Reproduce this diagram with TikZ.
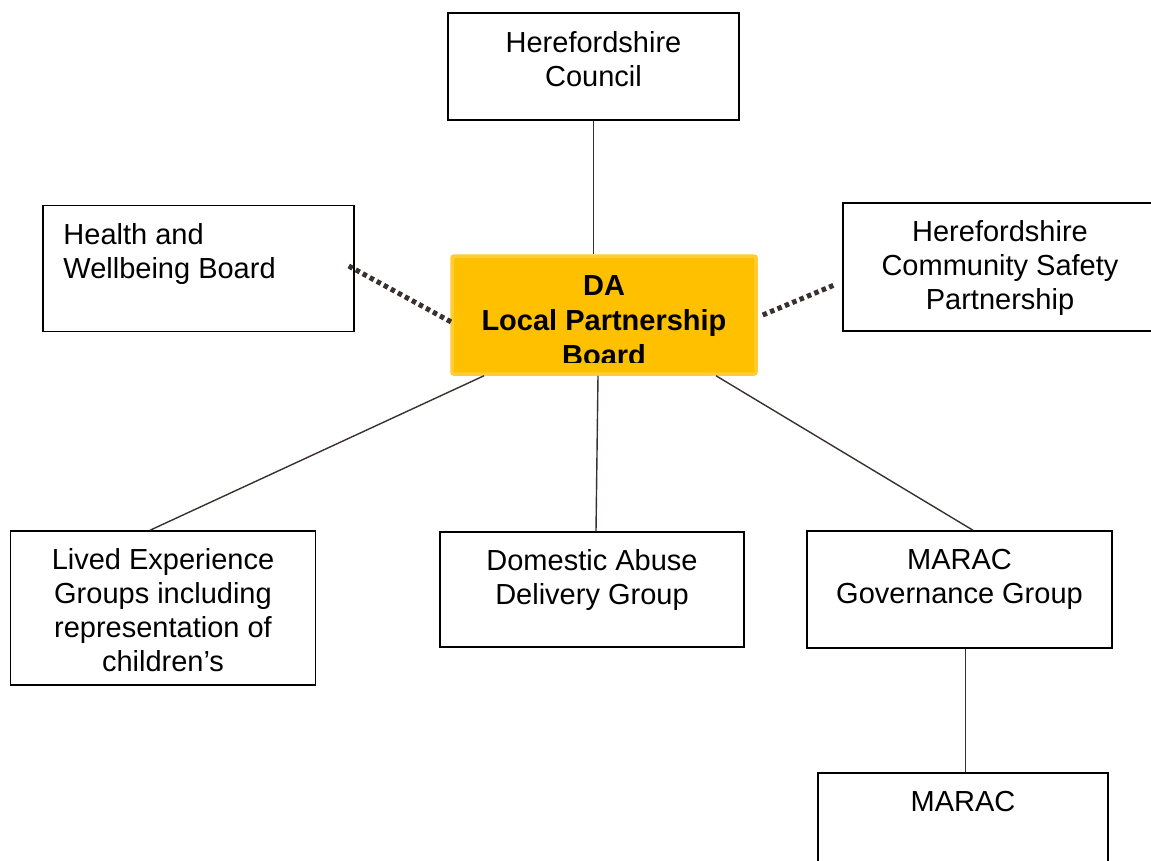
\documentclass[tikz,border=0pt]{standalone}
\usepackage{fontspec}
\setmainfont{Liberation Sans}
\usetikzlibrary{calc}
\definecolor{lc}{HTML}{3A3030}
\definecolor{dafill}{HTML}{FFC000}
\definecolor{daedge}{HTML}{FFCC33}
\begin{document}
\begin{tikzpicture}[x=1pt,y=-1pt,
  box/.style={draw=black, line width=1.5pt, fill=white, inner sep=0pt},
  dabox/.style={draw=daedge, line width=3.5pt, fill=dafill, rounded corners=2pt, inner sep=0pt},
  txt/.style={font=\fontsize{29}{34}\selectfont, align=center, inner sep=0pt, anchor=north},
  ltxt/.style={font=\fontsize{29}{34}\selectfont, align=left, inner sep=0pt, anchor=north west},
  datxt/.style={font=\fontsize{29}{35}\selectfont\bfseries, align=center, inner sep=0pt, anchor=north},
  conn/.style={draw=lc, line width=1.4pt},
  dotconn/.style={draw=lc, line width=5pt, dash pattern=on 4.5pt off 3.5pt}
]
\useasboundingbox (0,0) rectangle (1151,860);

% boxes
\node[box, minimum width=291, minimum height=107] (council) at (593.5,66.5) {};
\node[box, minimum width=311, minimum height=126] (hwb) at (198.5,268.5) {};
\node[box, minimum width=310, minimum height=128] (csp) at (998,267) {};
\node[dabox, minimum width=304, minimum height=118] (da) at (604,315) {};
\node[box, minimum width=305, minimum height=154] (lived) at (163,608) {};
\node[box, minimum width=304, minimum height=115] (dadg) at (592,589.5) {};
\node[box, minimum width=305, minimum height=117] (mgov) at (959.5,589.5) {};
\node[box, minimum width=290, minimum height=100] (marac) at (963,823) {};

% texts
\node[txt] (councilt) at ($(council.north)+(0,16)$) {\strut Herefordshire\\Council};
\node[ltxt] (hwbt) at ($(hwb.north west)+(21,15.5)$) {\strut Health and\\Wellbeing Board};
\node[txt] (cspt) at ($(csp.north)+(2,15)$) {\strut Herefordshire\\Community Safety\\Partnership};
\node[txt] (livedt) at ($(lived.north)+(0,15)$) {\strut Lived Experience\\Groups including\\representation of\\children’s};
\node[txt] (dadgt) at ($(dadg.north)+(0,15.5)$) {\strut Domestic Abuse\\Delivery Group};
\node[txt] (mgovt) at ($(mgov.north)+(0,15.5)$) {\strut MARAC\\Governance Group};
\node[txt] (maract) at ($(marac.north)+(0,15.5)$) {\strut MARAC};

\begin{scope}
  \clip ($(da.north west)+(2,2)$) rectangle (da.east |- 0,362);
  \node[datxt] (dat) at ($(da.north)+(0,17)$) {\strut DA\\Local Partnership\\Board};
\end{scope}

% connectors
\draw[conn] (council.south) -- (council.south |- da.north);
\draw[conn] ($(da.south)+(-120,0)$) -- ($(lived.north)+(-13,0)$);
\draw[conn] ($(da.south)+(-6,0)$) -- ($(dadg.north)+(4,0)$);
\draw[conn] ($(da.south)+(112,0)$) -- ($(mgov.north)+(13.5,0)$);
\draw[conn] ($(mgov.south)+(6,0)$) -- ($(marac.north)+(2.5,0)$);
\draw[dotconn] ($(hwb.east)+(-6,-2.5)$) -- ($(da.west)+(1,7)$);
\draw[dotconn] ($(da.east)+(5,0)$) -- ($(csp.west)+(-8,18)$);
\end{tikzpicture}
\end{document}
